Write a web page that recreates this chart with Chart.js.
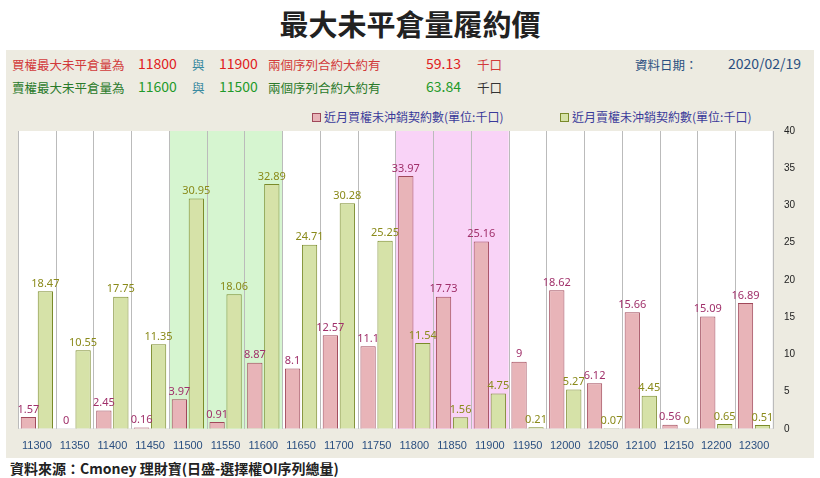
<!DOCTYPE html>
<html><head><meta charset="utf-8">
<script src="https://cdn.jsdelivr.net/npm/chart.js@4"></script>
<style>
body{margin:0;width:820px;height:478px;background:#fff;font-family:"Noto Sans CJK TC","Noto Sans",sans-serif;position:relative;overflow:hidden}
.a{position:absolute;white-space:nowrap}
#panel{position:absolute;left:6px;top:50px;width:808px;height:408px;background:#edebe1}
#wrap{position:absolute;left:6px;top:122px;width:808px;height:334px}
</style></head><body>
<div class="a" style="left:0;width:820px;top:2px;text-align:center;font-size:29px;font-weight:bold;color:#222">最大未平倉量履約價</div>
<div id="panel"></div>
<div class="a" style="left:12px;top:55px;font-size:12.5px;color:#d23a3a">買權最大未平倉量為</div>
<div class="a" style="left:138px;top:53px;font-size:14px;color:#e02020">11800</div>
<div class="a" style="left:192px;top:55px;font-size:12.5px;color:#3a8aa0">與</div>
<div class="a" style="left:219px;top:53px;font-size:14px;color:#e02020">11900</div>
<div class="a" style="left:268px;top:55px;font-size:12.5px;color:#d23a3a">兩個序列合約大約有</div>
<div class="a" style="left:426px;top:53px;font-size:14px;color:#e02020">59.13</div>
<div class="a" style="left:477px;top:55px;font-size:12.5px;color:#d23a3a">千口</div>
<div class="a" style="left:635px;top:55px;font-size:12.5px;color:#2a4f80">資料日期：</div>
<div class="a" style="left:728px;top:53px;font-size:14px;color:#2a4f80">2020/02/19</div>
<div class="a" style="left:12px;top:78px;font-size:12.5px;color:#2a7a2a">賣權最大未平倉量為</div>
<div class="a" style="left:138px;top:76px;font-size:14px;color:#1f9a2a">11600</div>
<div class="a" style="left:192px;top:78px;font-size:12.5px;color:#3a8aa0">與</div>
<div class="a" style="left:219px;top:76px;font-size:14px;color:#1f9a2a">11500</div>
<div class="a" style="left:268px;top:78px;font-size:12.5px;color:#2a7a2a">兩個序列合約大約有</div>
<div class="a" style="left:426px;top:76px;font-size:14px;color:#1f9a2a">63.84</div>
<div class="a" style="left:477px;top:78px;font-size:12.5px;color:#333">千口</div>
<div class="a" style="left:312px;top:108px;font-size:12px;color:#3a3a9a"><span style="display:inline-block;width:7px;height:7px;border:1px solid #a0485a;background:#e8b4b8;margin-right:3px"></span>近月買權未沖銷契約數(單位:千口)</div>
<div class="a" style="left:560px;top:108px;font-size:12px;color:#3a3a9a"><span style="display:inline-block;width:7px;height:7px;border:1px solid #7a8a2a;background:#d6e2a8;margin-right:3px"></span>近月賣權未沖銷契約數(單位:千口)</div>
<div id="wrap"><canvas id="c"></canvas></div>
<div class="a" style="left:10px;top:458px;font-size:14px;font-weight:bold;color:#222">資料來源：Cmoney 理財寶(日盛-選擇權OI序列總量)</div>
<script>
const strikes = ["11300","11350","11400","11450","11500","11550","11600","11650","11700","11750","11800","11850","11900","11950","12000","12050","12100","12150","12200","12300"];
const callOI = [1.57,0,2.45,0.16,3.97,0.91,8.87,8.1,12.57,11.1,33.97,17.73,25.16,9,18.62,6.12,15.66,0.56,15.09,16.89];
const putOI = [18.47,10.55,17.75,11.35,30.95,18.06,32.89,24.71,30.28,25.25,11.54,1.56,4.75,0.21,5.27,0.07,4.45,0,0.65,0.51];
const greenBand = [4, 6];  // index range
const pinkBand = [10, 12];

const bands = {
  id: "bands",
  beforeDatasetsDraw(chart) {
    const {ctx, chartArea: a, scales: {x}} = chart;
    ctx.fillStyle = "#fff";
    ctx.fillRect(a.left, a.top, a.right - a.left, a.bottom - a.top);
    const w = x.getPixelForValue(1) - x.getPixelForValue(0);
    [[greenBand, "#d6f5d0"], [pinkBand, "#f9d3f7"]].forEach(([r, col]) => {
      const l = x.getPixelForValue(r[0]) - w / 2, rr = x.getPixelForValue(r[1]) + w / 2;
      ctx.fillStyle = col;
      ctx.fillRect(l, a.top, rr - l, a.bottom - a.top);
    });
    ctx.strokeStyle = "#bbb"; ctx.lineWidth = 1;
    for (let i = 0; i <= strikes.length; i++) {
      const px = Math.round(x.getPixelForValue(i) - w / 2) + 0.5;
      ctx.beginPath(); ctx.moveTo(px, a.top); ctx.lineTo(px, a.bottom); ctx.stroke();
    }
  },
  afterDatasetsDraw(chart) {
    const {ctx} = chart;
    ctx.font = "11px 'Noto Sans'"; ctx.textAlign = "center"; ctx.textBaseline = "bottom";
    chart.data.datasets.forEach((ds, di) => {
      ctx.fillStyle = di === 0 ? "#a0306a" : "#8a8a1a";
      chart.getDatasetMeta(di).data.forEach((b, i) => ctx.fillText(String(ds.data[i]), b.x, b.y - 2));
    });
  }
};

new Chart(document.getElementById("c"), {
  type: "bar",
  data: {
    labels: strikes,
    datasets: [
      { data: callOI, backgroundColor: "#e8b4b8", borderColor: "#a0485a", borderWidth: 1, categoryPercentage: 0.9, barPercentage: 0.9 },
      { data: putOI, backgroundColor: "#d6e2a8", borderColor: "#7a8a2a", borderWidth: 1, categoryPercentage: 0.9, barPercentage: 0.9 }
    ]
  },
  options: {
    responsive: true, maintainAspectRatio: false, animation: false,
    layout: { padding: { left: 12, right: 16, top: 8 } },
    plugins: { legend: { display: false }, tooltip: { enabled: false } },
    scales: {
      x: { grid: { display: false }, border: { color: "#999" }, ticks: { color: "#2a4f80", font: { size: 11 }, maxRotation: 0, autoSkip: false } },
      y: { position: "right", min: 0, max: 40, grid: { display: false }, border: { color: "#999" },
           ticks: { stepSize: 5, color: "#222", font: { size: 10 } } }
    }
  },
  plugins: [bands]
});
</script>
</body></html>
